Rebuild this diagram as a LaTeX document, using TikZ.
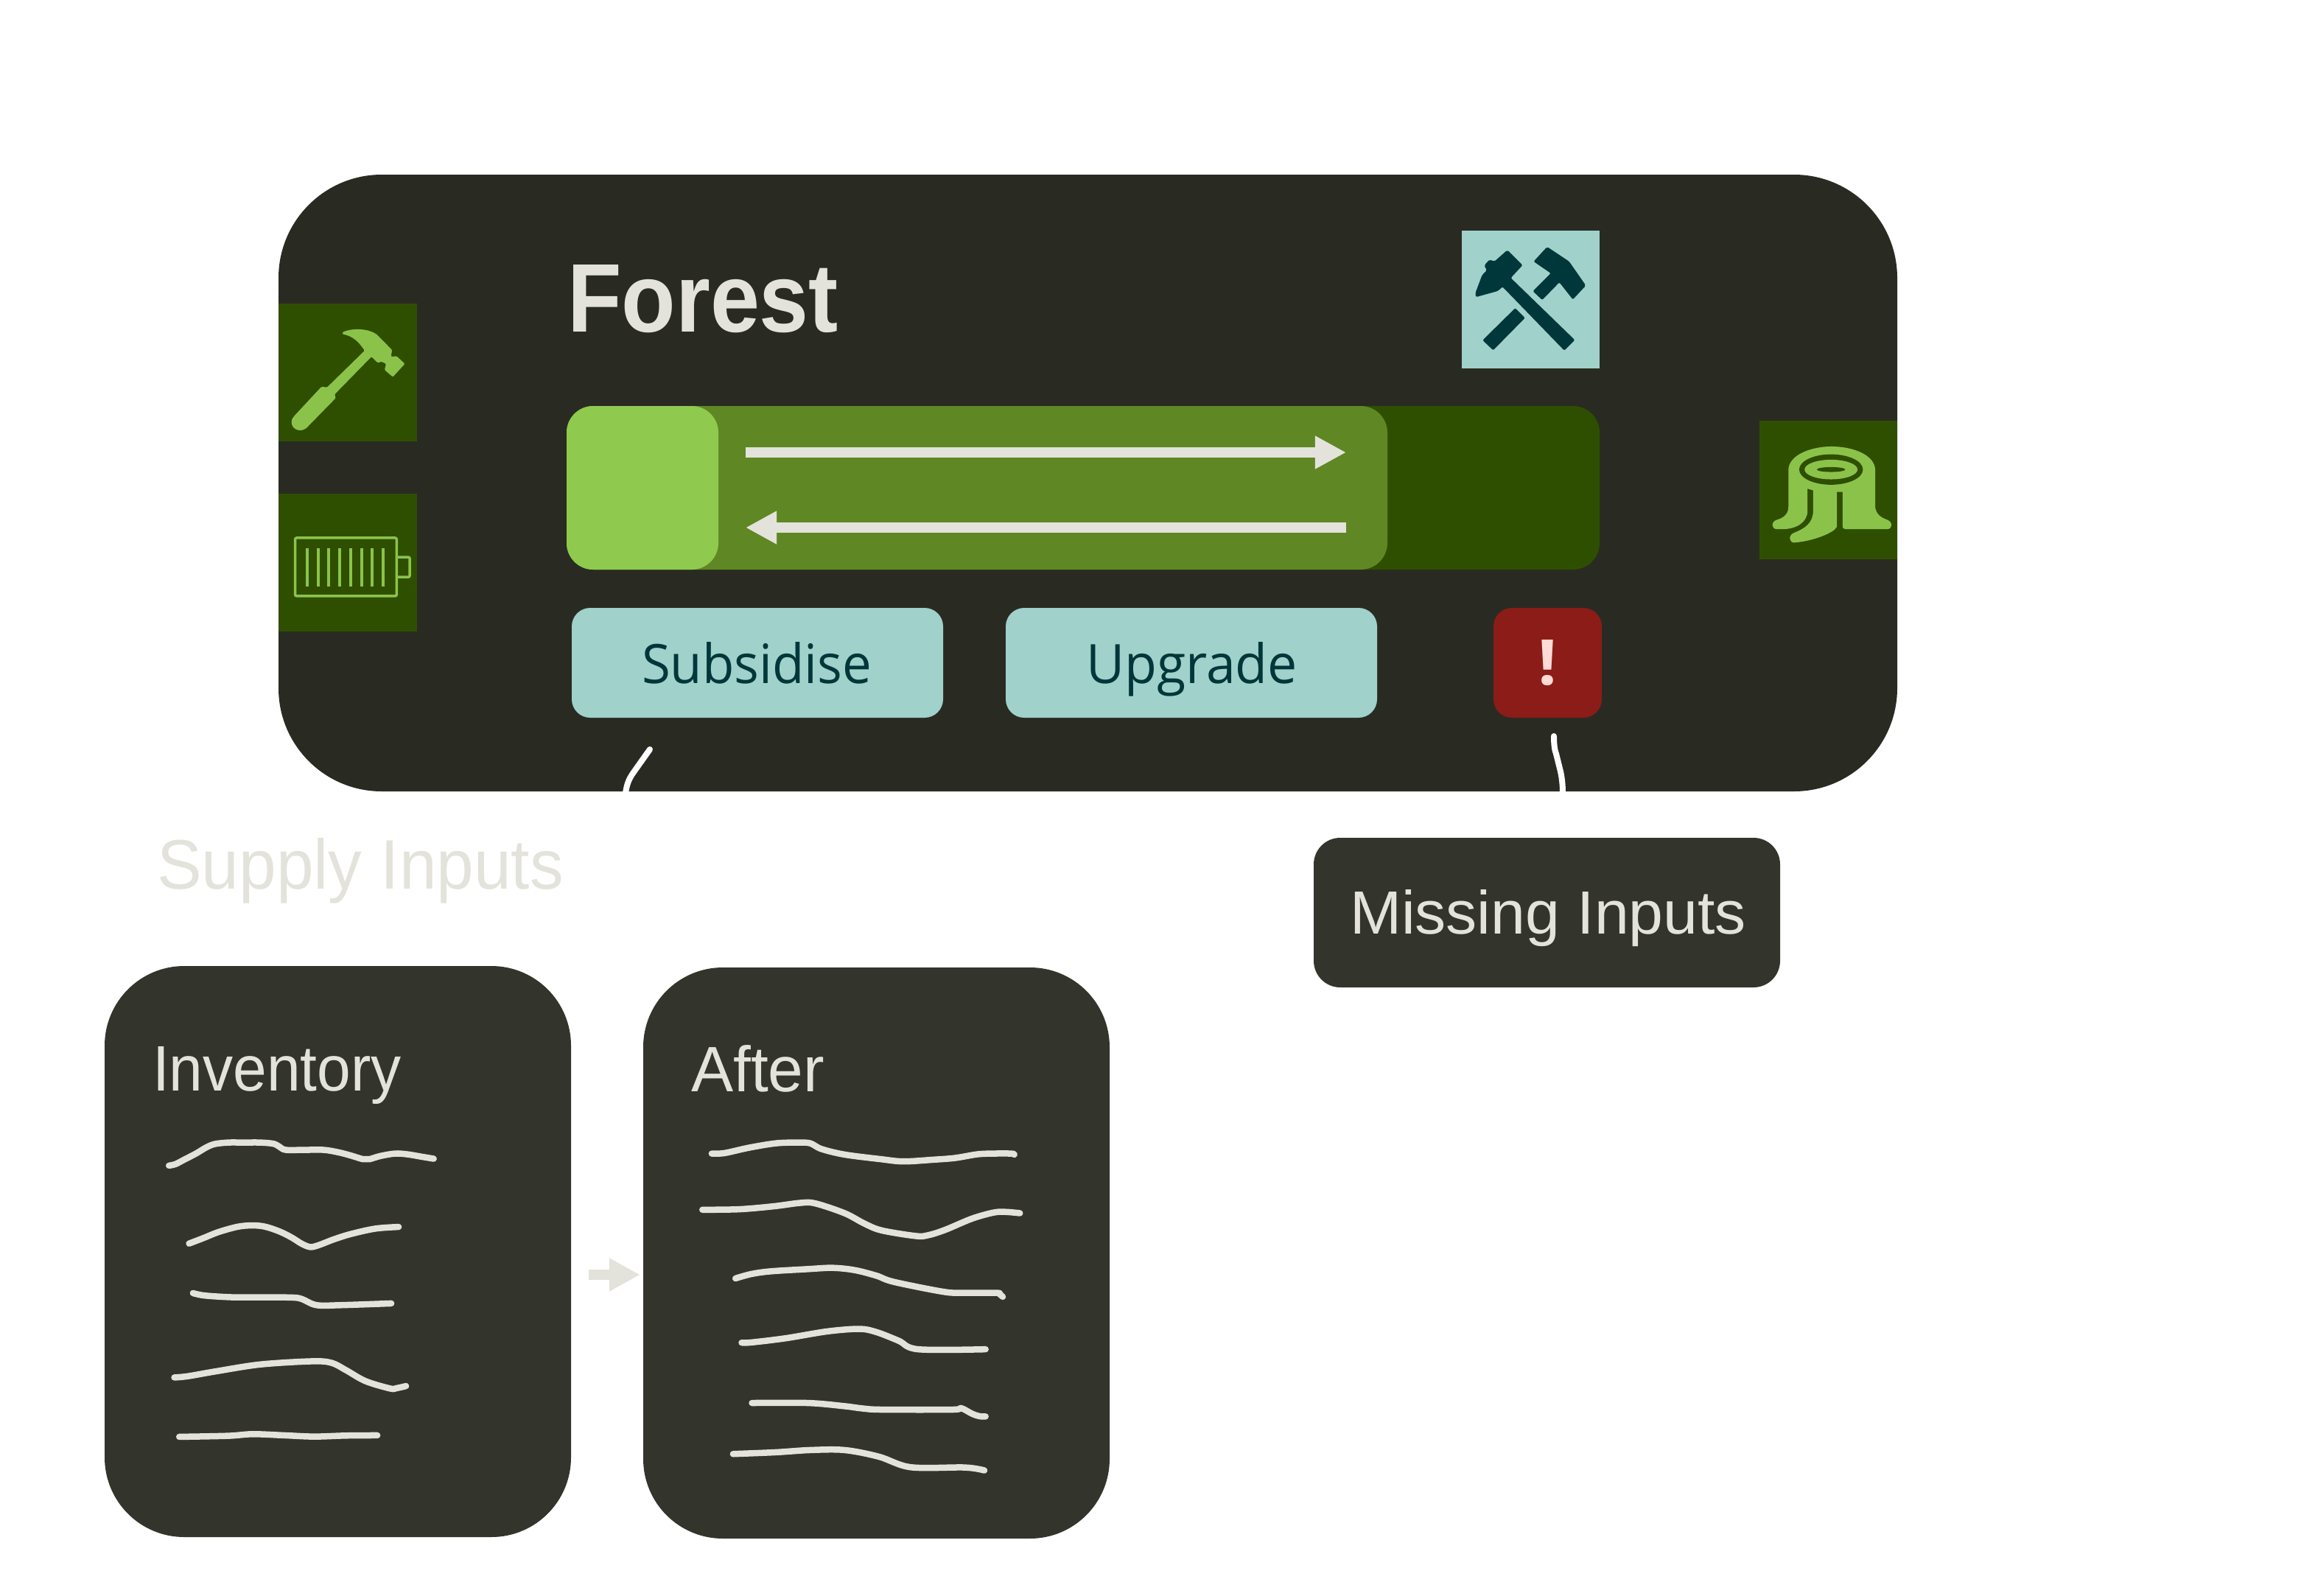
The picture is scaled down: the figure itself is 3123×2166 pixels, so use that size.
\documentclass[tikz,border=0pt]{standalone}
\usepackage{fontspec}
\usepackage{graphicx}
\usetikzlibrary{arrows.meta}
\setmainfont{Liberation Sans}
\newfontfamily\btnfont{Open Sans}
\newlength\pxu
\setlength\pxu{0.01cm}
\newcommand\fitbox[3]{\resizebox{#1\pxu}{#2\pxu}{#3}}
\newcommand\pxbox[6]{\node[#6,minimum width={(#4-#2)*0.01cm},minimum height={(#5-#3)*0.01cm}] (#1) at ({(#2+#4)/2},{(#3+#5)/2}) {};}
\definecolor{panelmain}{HTML}{292B23}
\definecolor{panelsub}{HTML}{33352D}
\definecolor{inktext}{HTML}{E3E3DC}
\definecolor{trackgreen}{HTML}{2F4F00}
\definecolor{midgreen}{HTML}{5F8723}
\definecolor{lightgreen}{HTML}{8FCA4E}
\definecolor{icongreen}{HTML}{8BC34A}
\definecolor{btnteal}{HTML}{A0D1CB}
\definecolor{tealink}{HTML}{00373A}
\definecolor{alertred}{HTML}{8B1C17}
\definecolor{alertink}{HTML}{FFDAD6}
\tikzset{
  x=0.01cm,y=-0.01cm,
  shapebox/.style={inner sep=0pt,outer sep=0pt,draw=none},
  mainpanel/.style={shapebox,fill=panelmain,rounded corners=1.4cm},
  subpanel/.style={shapebox,fill=panelsub,rounded corners=1.08cm},
  tipbox/.style={shapebox,fill=panelsub,rounded corners=0.36cm},
  iconbox/.style={shapebox,fill=trackgreen},
  tealbox/.style={shapebox,fill=btnteal},
  bar/.style={shapebox,rounded corners=0.36cm},
  btn/.style={shapebox,fill=btnteal,rounded corners=0.25cm},
  redbtn/.style={shapebox,fill=alertred,rounded corners=0.25cm},
  lbl/.style={inner sep=0pt,outer sep=0pt,anchor=base west,text=inktext},
  btnlbl/.style={lbl,text=tealink},
  arr/.style={draw=inktext,line width=0.14cm,-{Triangle[length=0.42cm,width=0.42cm]}},
  scribble/.style={draw=inktext,line width=0.085cm,line cap=round,line join=round},
  stub/.style={draw=white,line width=0.08cm,line cap=round},
  zoomthree/.style={x=0.0033333cm,y=-0.0033333cm}
}
\begin{document}
\begin{tikzpicture}
\useasboundingbox (0,0) rectangle (3123,2166);
% main card
\pxbox{main}{378}{237}{2575}{1074}{mainpanel}
% side icon boxes
\pxbox{hammerbox}{378}{412}{566}{599}{iconbox}
\pxbox{batterybox}{378}{670}{566}{857}{iconbox}
\pxbox{stumpbox}{2388}{571}{2575}{759}{iconbox}
\pxbox{toolsbox}{1984}{313}{2171}{500}{tealbox}
% progress bar
\pxbox{track}{769}{551}{2171}{773}{bar,fill=trackgreen}
\pxbox{mid}{769}{551}{1883}{773}{bar,fill=midgreen}
\pxbox{knob}{769}{551}{975}{773}{bar,fill=lightgreen}
% buttons
\pxbox{subsidise}{776}{825}{1280}{974}{btn}
\pxbox{upgrade}{1365}{825}{1869}{974}{btn}
\pxbox{alert}{2027}{825}{2174}{974}{redbtn}
% other panels
\pxbox{missing}{1783}{1137}{2416}{1340}{tipbox}
\pxbox{inventory}{142}{1311}{775}{2086}{subpanel}
\pxbox{after}{873}{1313}{1506}{2088}{subpanel}
% texts
\node[lbl] (forest) at (770,450) {\fontsize{36pt}{36pt}\selectfont\bfseries\fitbox{368}{91}{Forest}};
\node[btnlbl] (subsidisetext) at (871,927) {\fontsize{21pt}{21pt}\btnfont\fitbox{312}{56}{Subsidise}};
\node[btnlbl] (upgradetext) at (1474,927) {\fontsize{21pt}{21pt}\btnfont\fitbox{287}{56}{Upgrade}};
\node[lbl,text=alertink] (alerttext) at (2087,929) {\fontsize{24pt}{24pt}\btnfont\bfseries\fitbox{26}{61}{!}};
\node[lbl] (supply) at (213,1206) {\fontsize{26pt}{26pt}\selectfont\fitbox{552}{69}{Supply Inputs}};
\node[lbl] (missingtext) at (1832,1267) {\fontsize{24pt}{24pt}\selectfont\fitbox{538}{60}{Missing Inputs}};
\node[lbl] (inventorytext) at (207,1480) {\fontsize{24pt}{24pt}\selectfont\fitbox{338}{60}{Inventory}};
\node[lbl] (aftertext) at (938,1481) {\fontsize{24pt}{24pt}\selectfont\fitbox{181}{63}{After}};
% bar arrows
\coordinate (upstart) at (1012,614);
\coordinate (upend) at (1827,614);
\coordinate (downstart) at (1827,716);
\coordinate (downend) at (1012,716);
\draw[arr] (upstart) -- (upend);
\draw[arr] (downstart) -- (downend);
% arrow between panels
\coordinate (flowstart) at (799,1730);
\coordinate (flowend) at (869,1730);
\draw[arr] (flowstart) -- (flowend);
% stub connectors
\coordinate (stubatop) at (882,1017);
\coordinate (stubabot) at (849,1076);
\coordinate (stubbtop) at (2109,999);
\coordinate (stubbbot) at (2121,1076);
\draw[stub] (stubatop) -- (860,1048) .. controls (853,1058) and (851,1064) .. (stubabot);
\draw[stub] (stubbtop) .. controls (2109,1010) and (2110,1018) .. (2112,1023) -- (2118,1047) .. controls (2120,1056) and (2121,1066) .. (stubbbot);
% hammer icon
\begin{scope}[shift={(370,230)},x=0.0051cm,y=-0.00415cm]
\fill[icongreen,rounded corners=0.012cm] (186,532) .. controls (215,517) and (255,520) .. (278,540) -- (318,590) -- (315,612) -- (330,610) -- (352,635) -- (320,678) -- (298,655) -- (302,635) -- (290,628) -- (280,632) -- (263,612) -- (165,735) -- (168,747) -- (90,845) .. controls (70,862) and (45,845) .. (52,815) -- (58,805) -- (130,710) -- (145,712) -- (245,592) .. controls (230,565) and (215,545) .. (186,538) -- cycle;
% battery icon
\draw[icongreen,line width=0.035cm,rounded corners=0.02cm] (60,1204) rectangle (330,1394);
\draw[icongreen,line width=0.035cm,rounded corners=0.02cm] (330,1267) -- (365,1267) -- (365,1332) -- (330,1332);
\foreach \bx in {92,122,150,179,208,237,265,294}
  \draw[icongreen,line width=0.04cm] (\bx,1238) -- (\bx,1362);
\end{scope}
% crossed hammers icon
\begin{scope}[shift={(1960,290)},zoomthree]
\fill[tealink,rounded corners=0.02cm] (258,148) -- (320,210) -- (272,262) -- (533,515) -- (490,558) -- (238,298) -- (220,315) -- (130,340) -- (127,325) -- (155,250) -- (175,230) -- (163,212) -- (185,187) -- (205,195) -- cycle;
\fill[tealink,rounded corners=0.02cm] (290,385) -- (330,425) -- (200,557) -- (157,516) -- cycle;
\fill[tealink,rounded corners=0.02cm] (420,135) -- (510,195) -- (578,293) -- (525,350) -- (470,280) -- (400,352) -- (362,316) -- (435,243) -- (365,195) -- cycle;
\end{scope}
% stump icon
\begin{scope}[shift={(2380,560)},zoomthree]
\fill[icongreen] (142,235) .. controls (142,170) and (240,138) .. (318,138) .. controls (400,138) and (496,170) .. (496,235) -- (496,385) .. controls (500,415) and (520,428) .. (545,437) .. controls (568,445) and (568,475) .. (545,475) -- (375,475) .. controls (366,475) and (363,470) .. (363,465) -- (363,323) -- (340,323) -- (340,465) .. controls (330,490) and (240,525) .. (165,530) .. controls (145,530) and (140,500) .. (165,490) .. controls (210,472) and (243,450) .. (243,400) -- (243,317) -- (220,310) -- (220,400) .. controls (220,450) and (170,475) .. (120,475) -- (95,475) .. controls (72,475) and (70,445) .. (95,437) .. controls (120,430) and (142,415) .. (142,385) -- cycle;
\fill[trackgreen] (316,232) ellipse [x radius=130, y radius=62];
\fill[icongreen] (316,232) ellipse [x radius=108, y radius=40];
\fill[trackgreen] (316,232) ellipse [x radius=58, y radius=10];
\end{scope}
% inventory scribbles
\begin{scope}[shift={(180,1500)},zoomthree]
\draw[scribble] plot[smooth,tension=.55] coordinates {(148,246)(175,240)(210,222)(260,196)(300,172)(335,158)(390,152)(450,152)(520,152)(575,157)(600,170)(625,182)(700,182)(780,182)(840,192)(890,205)(940,220)(965,220)(1010,207)(1070,197)(1120,200)(1180,210)(1228,218)};
\draw[scribble] plot[smooth,tension=.55] coordinates {(230,564)(290,541)(350,517)(430,495)(490,490)(540,495)(600,515)(650,540)(690,565)(725,578)(760,570)(820,547)(890,525)(990,503)(1085,496)};
\draw[scribble] plot[smooth,tension=.55] coordinates {(246,766)(295,776)(410,783)(530,783)(650,784)(690,790)(750,815)(850,815)(1055,808)};
\draw[scribble] plot[smooth,tension=.55] coordinates {(170,1110)(225,1105)(340,1085)(520,1057)(730,1044)(810,1050)(870,1080)(950,1125)(1050,1155)(1075,1154)(1115,1145)};
\draw[scribble] plot[smooth,tension=.55] coordinates {(190,1352)(390,1348)(490,1341)(620,1346)(740,1351)(870,1347)(998,1346)};
\end{scope}
% after scribbles
\begin{scope}[shift={(930,1510)},zoomthree]
\draw[scribble] plot[smooth,tension=.55] coordinates {(108,167)(160,165)(260,143)(370,125)(460,122)(510,125)(555,148)(650,171)(800,190)(890,199)(1010,192)(1100,185)(1190,170)(1250,167)(1330,167)(1342,171)};
\draw[scribble] plot[smooth,tension=.55] coordinates {(70,396)(220,394)(360,382)(470,368)(530,370)(650,410)(730,452)(800,480)(940,503)(990,500)(1060,478)(1170,432)(1260,407)(1310,405)(1365,410)};
\draw[scribble] plot[smooth,tension=.55] coordinates {(205,676)(270,658)(350,647)(500,638)(600,633)(690,642)(780,665)(850,690)(1050,730)(1130,735)(1270,735)(1282,740)(1295,751)};
\draw[scribble] plot[smooth,tension=.55] coordinates {(230,938)(270,937)(410,920)(580,892)(710,882)(780,895)(870,930)(950,965)(1225,965)};
\draw[scribble] plot[smooth,tension=.55] coordinates {(272,1184)(500,1184)(650,1197)(720,1206)(800,1211)(1090,1211)(1125,1205)(1170,1228)(1200,1238)(1225,1239)};
\draw[scribble] plot[smooth,tension=.55] coordinates {(195,1392)(370,1385)(510,1376)(650,1376)(790,1403)(920,1446)(1140,1447)(1220,1459)};
\end{scope}
\end{tikzpicture}
\end{document}
